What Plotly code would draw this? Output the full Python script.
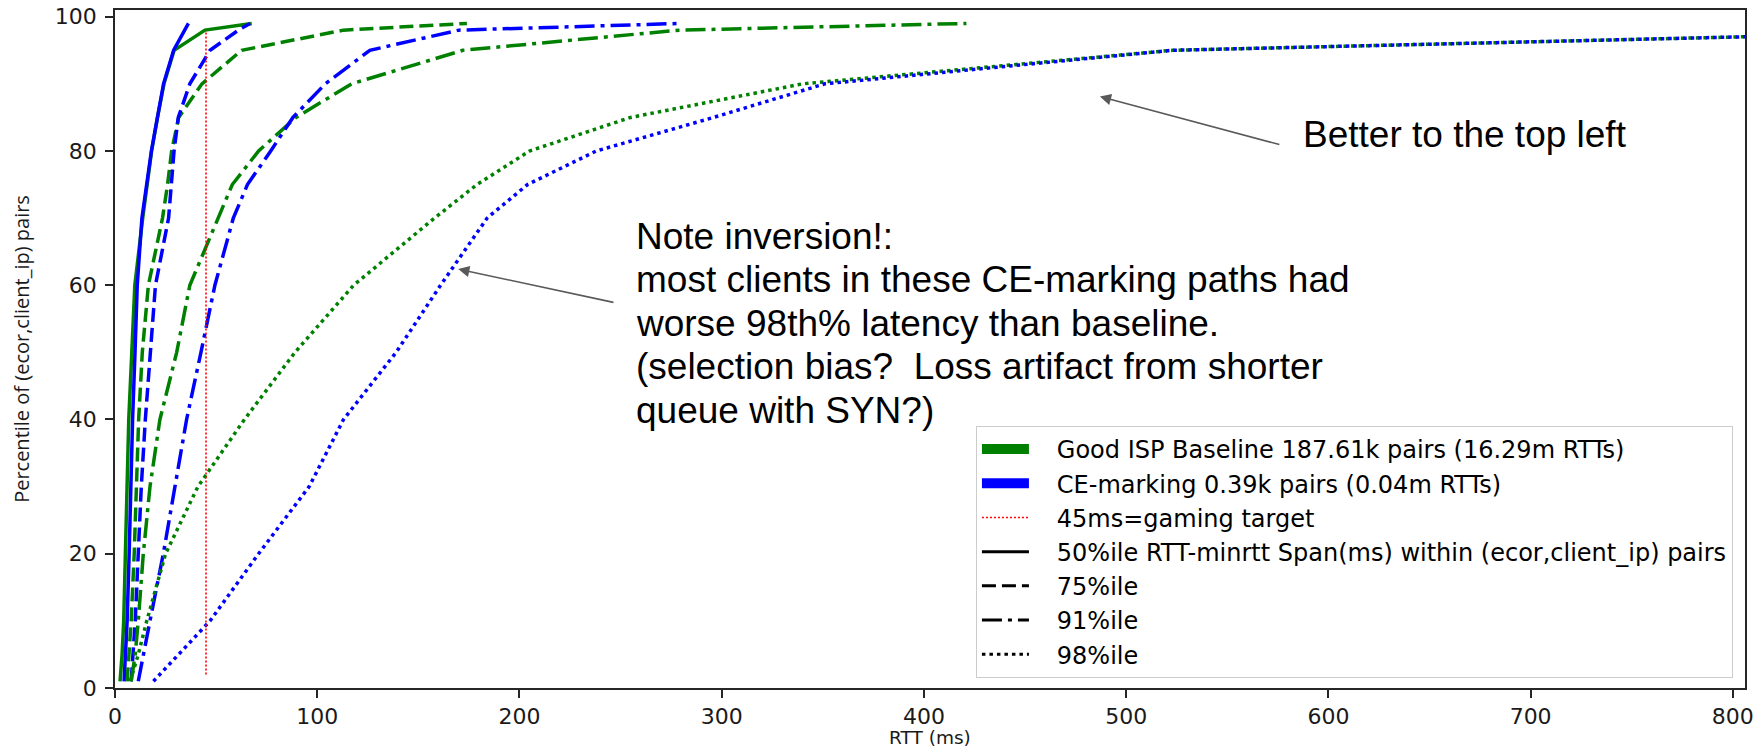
import plotly.graph_objects as go

# Percentile of (ecor, client_ip) pairs
percentiles = [1, 5, 10, 20, 30, 40, 50, 60, 70, 75, 80, 85, 90, 95, 98, 99]

# RTT - minrtt span (ms) reached at each percentile, per within-pair percentile
baseline_p50 = [2.5, 3.5, 4.3, 5.2, 6.0, 6.8, 8.3, 9.8, 13.7, 15.8, 18.1, 21.0, 24.2, 29.2, 44.5, 67.6]
ce_p50 = [4.5, 5.3, 6.0, 7.0, 7.8, 8.7, 9.9, 11.0, 13.3, 15.5, 18.0, 21.0, 24.0, 29.0, 34.3, 36.3]
baseline_p75 = [6.0, 7.0, 8.0, 9.5, 10.5, 11.7, 13.5, 16.5, 23.5, 26.0, 28.0, 31.5, 43.0, 62.6, 113.0, 174.0]
ce_p75 = [8.0, 9.0, 10.0, 11.5, 13.0, 15.0, 17.5, 20.0, 26.5, 28.0, 29.2, 31.3, 37.0, 47.0, 61.0, 66.8]
baseline_p91 = [8.0, 10.0, 11.5, 14.0, 17.3, 22.2, 30.5, 37.0, 51.0, 58.0, 71.0, 89.5, 117.0, 172.0, 279.0, 421.0]
ce_p91 = [11.5, 14.0, 17.3, 23.9, 29.7, 35.4, 42.5, 49.4, 58.5, 65.5, 77.0, 88.0, 104.0, 126.0, 170.0, 280.0]
baseline_p98 = [7.5, 11.5, 15.7, 25.0, 41.0, 64.0, 89.0, 118.0, 158.0, 179.0, 205.0, 255.0, 340.0, 523.0, 945.0, 1250.0]
ce_p98 = [19.0, 31.5, 47.0, 71.0, 96.0, 113.0, 139.0, 161.0, 184.0, 204.0, 238.0, 296.0, 351.0, 523.0, 945.0, 1250.0]

gaming_target_ms = 45
gaming_target_span = [2, 98]

x_ticks = [0, 100, 200, 300, 400, 500, 600, 700, 800]
y_ticks = [0, 20, 40, 60, 80, 100]

x_title = "RTT (ms)"
y_title = "Percentile of (ecor,client_ip) pairs"

group_labels = ["Good ISP Baseline 187.61k pairs (16.29m RTTs)",
                "CE-marking 0.39k pairs (0.04m RTTs)"]
target_label = "45ms=gaming target"
style_labels = ["50%ile RTT-minrtt Span(ms) within (ecor,client_ip) pairs",
                "75%ile", "91%ile", "98%ile"]

note_lines = ["Note inversion!:",
              "most clients in these CE-marking paths had",
              "worse 98th% latency than baseline.",
              "(selection bias?\u00a0 Loss artifact from shorter",
              "queue with SYN?)"]
better_text = "Better to the top left"

GREEN = "#008000"
BLUE = "#0000ff"
RED = "#ff0000"
DASHES = ["solid", "14px,6px", "20px,6px,4px,6px", "3.5px,4px"]
LW = 3.5
LEGEND_GAP = "\u00a0\u00a0\u00a0"  # space between key sample and its label

fig = go.Figure()

curves = [
    (baseline_p50, ce_p50),
    (baseline_p75, ce_p75),
    (baseline_p91, ce_p91),
    (baseline_p98, ce_p98),
]
for dash, (base_vals, ce_vals) in zip(DASHES, curves):
    for vals, color in ((base_vals, GREEN), (ce_vals, BLUE)):
        fig.add_trace(go.Scatter(
            x=vals, y=percentiles, mode="lines", showlegend=False,
            line=dict(color=color, width=LW, dash=dash), hoverinfo="skip"))

# 45 ms gaming target
fig.add_trace(go.Scatter(
    x=[gaming_target_ms, gaming_target_ms], y=gaming_target_span, mode="lines",
    showlegend=False, line=dict(color=RED, width=1.6, dash="2px,2px"),
    hoverinfo="skip"))

# Legend entries: colour patches, target line, and line-style key
for label, color in zip(group_labels, (GREEN, BLUE)):
    fig.add_trace(go.Scatter(x=[None], y=[None], mode="lines", name=LEGEND_GAP + label,
                             line=dict(color=color, width=15)))
fig.add_trace(go.Scatter(x=[None], y=[None], mode="lines", name=LEGEND_GAP + target_label,
                         line=dict(color=RED, width=1.6, dash="2px,2px")))
for label, dash in zip(style_labels, DASHES):
    fig.add_trace(go.Scatter(x=[None], y=[None], mode="lines", name=LEGEND_GAP + label,
                             line=dict(color="black", width=3, dash=dash)))

TEXT_FONT = dict(family="Liberation Sans, Arial, sans-serif", size=37, color="black")

for i, line in enumerate(note_lines):
    fig.add_annotation(x=256.6, y=67.3, xref="x", yref="y", text=line,
                       showarrow=False, xanchor="left", yanchor="middle",
                       yshift=-43.5 * i, font=TEXT_FONT)

fig.add_annotation(x=586.4, y=82.4, xref="x", yref="y", text=better_text,
                   showarrow=False, xanchor="left", yanchor="middle", font=TEXT_FONT)

# Pointer arrows
for head, tail in (((487, 88.1), (576.5, 80.9)), ((169.7, 62.4), (247.2, 57.4))):
    fig.add_annotation(x=head[0], y=head[1], ax=tail[0], ay=tail[1],
                       xref="x", yref="y", axref="x", ayref="y", text="",
                       showarrow=True, arrowhead=2, arrowsize=1.4, arrowwidth=1.6,
                       arrowcolor="#595959", standoff=0, startstandoff=0)

# x-axis title, centred under the axes near the bottom edge
fig.add_annotation(x=0.5, y=0, xref="paper", yref="paper", text=x_title,
                   showarrow=False, xanchor="center", yanchor="middle", yshift=-49,
                   borderpad=0,
                   font=dict(family="DejaVu Sans", size=18.5, color="#1a1a1a"))

AXIS_COLOR = "#262626"
TICK_FONT = dict(family="DejaVu Sans", size=22, color="#1a1a1a")

fig.update_xaxes(
    range=[0, 806], tickvals=x_ticks, ticks="outside", ticklen=8, tickwidth=1.6,
    tickcolor=AXIS_COLOR, showline=True, linecolor=AXIS_COLOR, linewidth=1.8,
    mirror=True, showgrid=False, zeroline=False, tickfont=TICK_FONT, automargin=False)
fig.update_yaxes(
    range=[0, 101], tickvals=y_ticks, ticks="outside", ticklen=8, tickwidth=1.6,
    tickcolor=AXIS_COLOR, showline=True, linecolor=AXIS_COLOR, linewidth=1.8,
    mirror=True, showgrid=False, zeroline=False, tickfont=TICK_FONT, automargin=False,
    ticklabelstandoff=4,
    title=dict(text=y_title,
               font=dict(family="Open Sans", size=20, color="#1a1a1a"), standoff=20))

fig.update_layout(
    width=1759, height=749, autosize=False,
    margin=dict(l=115, r=14, t=10, b=61),
    plot_bgcolor="white", paper_bgcolor="white",
    legend=dict(x=0.9926, y=0.0148, xanchor="right", yanchor="bottom",
                bgcolor="rgba(255,255,255,0.8)", bordercolor="#cccccc", borderwidth=1,
                font=dict(family="DejaVu Sans", size=24, color="black"),
                itemwidth=47, tracegroupgap=0),
)

fig.write_html("out.html")
